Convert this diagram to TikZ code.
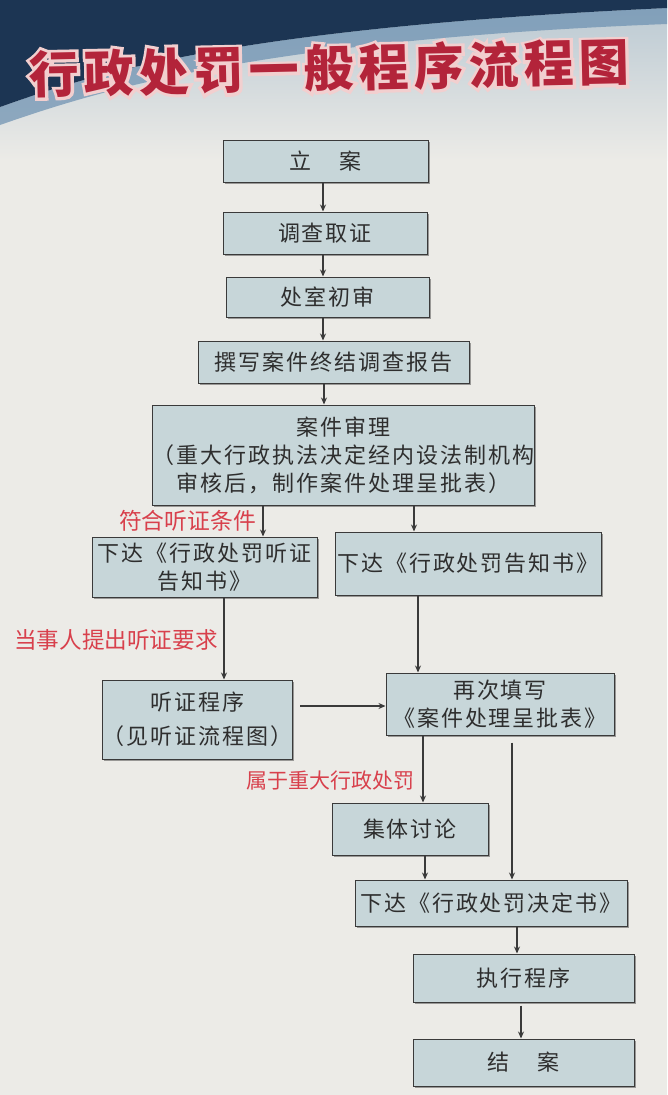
\documentclass[tikz,border=0pt]{standalone}
\usepackage{fontspec}
\usetikzlibrary{arrows.meta,shadows}
\setmainfont{Noto Sans CJK SC}
\newfontfamily\cjk[LetterSpace=9]{Noto Sans CJK SC}
\newfontfamily\lblfont{Noto Sans CJK SC}
\newfontfamily\titlefont[LetterSpace=10]{Noto Sans CJK SC}
\newfontfamily\halofont[LetterSpace=10,FakeBold=12]{Noto Sans CJK SC}
\definecolor{navy}{HTML}{1C3553}
\definecolor{band}{HTML}{6A8FB0}
\definecolor{pale}{HTML}{B9C8D2}
\definecolor{bgc}{HTML}{ECEBE7}
\definecolor{boxfill}{HTML}{C7D6D9}
\definecolor{bdr}{HTML}{3A3A3A}
\definecolor{txt}{HTML}{2E2E2E}
\definecolor{lblred}{HTML}{D8404C}
\definecolor{arrc}{HTML}{3A3A3A}
\definecolor{titred}{HTML}{B3243A}
\definecolor{halo}{HTML}{F2CFCF}
\begin{document}
\begin{tikzpicture}[x=1pt,y=-1pt,
  box/.style={draw=bdr, line width=1pt, fill=boxfill, text=txt,
    font=\cjk\fontsize{22}{28}\selectfont, align=center, inner sep=0pt,
    drop shadow={shadow xshift=1.6pt, shadow yshift=-1.6pt, fill=black, opacity=0.35}},
  lbl/.style={text=lblred, font=\lblfont\fontsize{21}{24}\selectfont, inner sep=0pt},
  arr/.style={draw=arrc, line width=1.1pt, -{Stealth[length=7pt,width=6pt]}}]
\useasboundingbox (0,0) rectangle (667,1095);
% background
\fill[bgc] (0,0) rectangle (667,1095);
\shade[top color=pale, bottom color=bgc] (0,0) rectangle (667,160);
\fill[band, opacity=0.7] (0,107) .. controls (90,75) and (230,28) .. (667,8) -- (667,24) .. controls (260,40) and (100,90) .. (0,125) -- cycle;
\fill[navy] (0,0) -- (0,107) .. controls (90,75) and (230,28) .. (667,8) -- (667,0) -- cycle;
% title
\node[rotate=1.2, text=halo, font=\halofont\bfseries\fontsize{50}{56}\selectfont, inner sep=0pt] (titlehalo) at (329,68) {行政处罚一般程序流程图};
\node[rotate=1.2, text=titred, font=\titlefont\bfseries\fontsize{50}{56}\selectfont, inner sep=0pt] (title) at (329,68) {行政处罚一般程序流程图};
% boxes
\node[box, minimum width=205pt, minimum height=42pt] (lian) at (325.5,161) {立\hspace{1.3em}案};
\node[box, minimum width=204pt, minimum height=42pt] (diaocha) at (325,233) {调查取证};
\node[box, minimum width=203pt, minimum height=40pt] (chushen) at (327.5,297) {处室初审};
\node[box, minimum width=271pt, minimum height=42pt] (zhuanxie) at (333.5,362) {撰写案件终结调查报告};
\node[box, minimum width=381pt, minimum height=100pt] (shenli) at (343.5,455) {案件审理\\（重大行政执法决定经内设法制机构\\审核后，制作案件处理呈批表）};
\node[box, minimum width=225pt, minimum height=60pt] (tzgz) at (204.5,567) {下达《行政处罚听证\\告知书》};
\node[box, minimum width=266pt, minimum height=63pt] (gaozhi) at (468,563.5) {下达《行政处罚告知书》};
\node[box, minimum width=179pt, minimum height=79pt] (tingzheng) at (197.5,719.5) {听证程序\\[6pt]（见听证流程图）};
\node[box, minimum width=228pt, minimum height=62pt] (zaici) at (500,704) {再次填写\\《案件处理呈批表》};
\node[box, minimum width=156pt, minimum height=52pt] (jiti) at (410,829) {集体讨论};
\node[box, minimum width=272pt, minimum height=46pt] (jueding) at (491,903) {下达《行政处罚决定书》};
\node[box, minimum width=221pt, minimum height=48pt] (zhixing) at (523.5,978) {执行程序};
\node[box, minimum width=221pt, minimum height=47pt] (jiean) at (523.5,1062.5) {结\hspace{1.3em}案};
% labels
\node[lbl, font=\lblfont\fontsize{22.8}{26}\selectfont] (l1) at (187.5,521) {符合听证条件};
\node[lbl, font=\lblfont\fontsize{22.6}{26}\selectfont] (l2) at (116,640) {当事人提出听证要求};
\node[lbl] (l3) at (330.5,781) {属于重大行政处罚};
% x positions
\coordinate (xa) at (323,0);
\coordinate (xb) at (324,0);
\coordinate (xc) at (263,0);
\coordinate (xd) at (414,0);
\coordinate (xe) at (224,0);
\coordinate (xf) at (418,0);
\coordinate (xg) at (423,0);
\coordinate (xh) at (512,0);
\coordinate (xi) at (425,0);
\coordinate (xj) at (517,0);
\coordinate (xk) at (521,0);
\coordinate (hs) at (300,706);
% connectors
\draw[arr] (lian.south -| xa) -- (diaocha.north -| xa);
\draw[arr] (diaocha.south -| xa) -- (chushen.north -| xa);
\draw[arr] (chushen.south -| xa) -- (zhuanxie.north -| xa);
\draw[arr] (zhuanxie.south -| xb) -- (shenli.north -| xb);
\draw[arr] (shenli.south -| xc) -- (tzgz.north -| xc);
\draw[arr] (shenli.south -| xd) -- (gaozhi.north -| xd);
\draw[arr] (tzgz.south -| xe) -- (tingzheng.north -| xe);
\draw[arr] (gaozhi.south -| xf) -- (zaici.north -| xf);
\draw[arr] (hs) -- (hs -| zaici.west);
\draw[arr] (zaici.south -| xg) -- (jiti.north -| xg);
\draw[arr, shorten <=7pt] (zaici.south -| xh) -- (jueding.north -| xh);
\draw[arr] (jiti.south -| xi) -- (jueding.north -| xi);
\draw[arr] (jueding.south -| xj) -- (zhixing.north -| xj);
\draw[arr, shorten <=3pt] (zhixing.south -| xk) -- (jiean.north -| xk);
\end{tikzpicture}
\end{document}
